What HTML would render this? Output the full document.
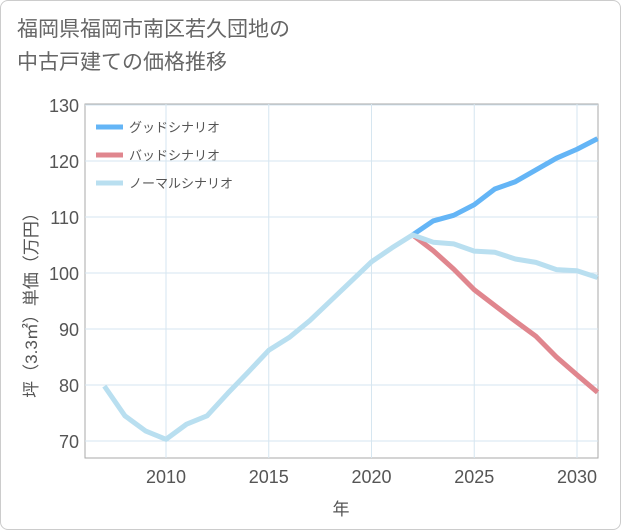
<!DOCTYPE html>
<html><head><meta charset="utf-8"><style>
body{margin:0;background:#fff;}
#wrap{position:relative;width:619px;height:528px;border:1px solid #ccc;border-radius:8px;overflow:hidden;font-family:"Liberation Sans","Noto Sans CJK JP",sans-serif;}
#title{position:absolute;left:16px;top:12px;font-size:21px;line-height:33px;color:#666;}
svg{position:absolute;left:0;top:0;}
</style></head><body>
<div id="wrap">
<div id="title">福岡県福岡市南区若久団地の<br>中古戸建ての価格推移</div>
<svg id="chart" width="621" height="530"></svg>
</div>
<script>
const years=[2007,2008,2009,2010,2011,2012,2013,2014,2015,2016,2017,2018,2019,2020,2021,2022,2023,2024,2025,2026,2027,2028,2029,2030,2031];
const normalVals=[79.8,74.5,71.8,70.3,73,74.5,78.5,82.3,86.2,88.5,91.5,95,98.5,102,104.5,106.8,105.5,105.2,103.9,103.7,102.5,101.9,100.6,100.4,99.2];
const futureYears=[2022,2023,2024,2025,2026,2027,2028,2029,2030,2031];
const goodVals=[106.8,109.3,110.3,112.2,115,116.3,118.4,120.5,122.1,124];
const badVals=[106.8,104,100.7,97,94.2,91.4,88.7,85,81.8,78.7];
const yTicks=[70,80,90,100,110,120,130];
const xTicks=[2010,2015,2020,2025,2030];
const legendLabels=["グッドシナリオ","バッドシナリオ","ノーマルシナリオ"];
const colors=["#64b5f6","#e0868e","#b9dff0"];
const L=84,R=597,T=103,B=457;
const x=v=>165+(v-2010)*(576-165)/20;
const y=v=>440-(v-70)*(440-104)/60;
const svg=document.getElementById('chart');
const NS='http://www.w3.org/2000/svg';
function mk(t,a,p){const e=document.createElementNS(NS,t);for(const k in a)e.setAttribute(k,a[k]);(p||svg).appendChild(e);return e;}
const bg=mk('rect',{x:L,y:T,width:R-L,height:B-T,fill:'#fff',stroke:'#aaa'});


yTicks.forEach(v=>{
 const g=mk('line',{x1:L,x2:R,y1:y(v),y2:y(v),stroke:'#d6e6f0'});
 
 
 const t=mk('text',{x:78,y:y(v)+7,'text-anchor':'end','font-size':18,fill:'#555'});
 t.textContent=v;
 
 
});
xTicks.forEach(v=>{
 const g=mk('line',{x1:x(v),x2:x(v),y1:T,y2:B,stroke:'#d6e6f0'});
 
 
 const t=mk('text',{x:x(v),y:482,'text-anchor':'middle','font-size':18,fill:'#555'});
 t.textContent=v;
 
 
});
function line(xs,vs,c,name){
 const p=mk('polyline',{points:xs.map((a,i)=>x(a)+','+y(vs[i])).join(' '),fill:'none',stroke:c,'stroke-width':5,'stroke-linejoin':'round'});
 
 
}
line(futureYears,goodVals,colors[0],'good-scenario-line');
line(futureYears,badVals,colors[1],'bad-scenario-line');
line(years,normalVals,colors[2],'normal-scenario-line');
legendLabels.forEach((s,i)=>{
 const yy=126+i*28;
 const l=mk('line',{x1:95,x2:122,y1:yy,y2:yy,stroke:colors[i],'stroke-width':5});
 
 
 const t=mk('text',{x:128,y:yy+5,'font-size':13,fill:'#555'});
 t.textContent=s;
 
 
});
const xt=mk('text',{x:340,y:514,'text-anchor':'middle','font-size':17,fill:'#555'});
xt.textContent='年';


const yt=mk('text',{x:0,y:0,'text-anchor':'middle','font-size':17,fill:'#555',transform:'translate(36,300) rotate(-90)'});
yt.textContent='坪（3.3㎡）単価（万円）';


</script>
</body></html>
